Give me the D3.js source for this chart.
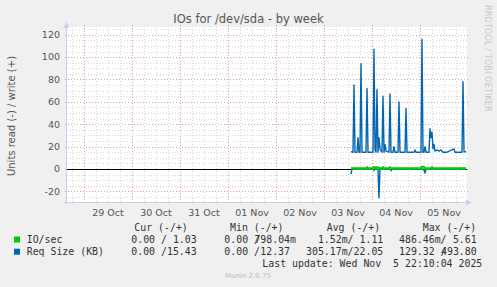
<!DOCTYPE html>
<html><head><meta charset="utf-8">
<script src="https://cdn.jsdelivr.net/npm/d3@7"></script>
<style>
html,body{margin:0;padding:0;background:#f0f0f0;}
svg{display:block;}
text{font-family:"DejaVu Sans",sans-serif;}
.mono{font-family:"DejaVu Sans Mono",monospace;font-size:9.9px;fill:#333;white-space:pre;}
</style></head>
<body>
<script>
// ---------- data ----------
const title = "IOs for /dev/sda - by week";
const yLabel = "Units read (-) / write (+)";
const xTickLabels = ["29 Oct","30 Oct","31 Oct","01 Nov","02 Nov","03 Nov","04 Nov","05 Nov"];
const xTickDates = ["2025-10-29T12:00","2025-10-30T12:00","2025-10-31T12:00","2025-11-01T12:00","2025-11-02T12:00","2025-11-03T12:00","2025-11-04T12:00","2025-11-05T12:00"];
const yTicks = [-20,0,20,40,60,80,100,120];
const timeDomain = ["2025-10-28T15:30","2025-11-05T23:30"];
const yDomain = [-29.5,126.9];

// Req Size (KB) write (+)
const reqWrite = [
 ["2025-11-03T13:30",15.5],["2025-11-03T14:30",15],["2025-11-03T15:00",75],["2025-11-03T15:30",15],
 ["2025-11-03T16:30",15],["2025-11-03T17:00",28],["2025-11-03T17:30",15],["2025-11-03T18:00",15],
 ["2025-11-03T18:30",94],["2025-11-03T19:00",15],["2025-11-03T21:00",15],["2025-11-03T21:30",72],
 ["2025-11-03T22:00",15],["2025-11-04T00:30",15],["2025-11-04T01:00",107],["2025-11-04T01:30",17],
 ["2025-11-04T02:00",15],["2025-11-04T02:30",71],["2025-11-04T03:00",15],["2025-11-04T03:30",28],
 ["2025-11-04T04:00",18],["2025-11-04T05:00",15],["2025-11-04T05:30",65],["2025-11-04T06:00",15],
 ["2025-11-04T06:30",22],["2025-11-04T07:00",16],["2025-11-04T08:30",15],["2025-11-04T09:00",67],
 ["2025-11-04T09:30",15],["2025-11-04T10:30",15],["2025-11-04T11:00",20],["2025-11-04T11:30",15],
 ["2025-11-04T13:00",15],["2025-11-04T13:30",60],["2025-11-04T14:00",15],["2025-11-04T16:30",15],
 ["2025-11-04T17:00",54],["2025-11-04T17:30",15],["2025-11-04T21:00",15],["2025-11-04T21:30",17],
 ["2025-11-04T22:00",15],["2025-11-05T00:30",15],["2025-11-05T01:00",116],["2025-11-05T01:30",15],
 ["2025-11-05T02:00",15],["2025-11-05T02:30",20],["2025-11-05T03:00",15],["2025-11-05T04:30",15],
 ["2025-11-05T05:00",36],["2025-11-05T05:30",28],["2025-11-05T06:00",33],["2025-11-05T06:30",18],
 ["2025-11-05T07:00",22],["2025-11-05T07:30",16],["2025-11-05T08:30",17],["2025-11-05T09:30",16],
 ["2025-11-05T10:30",17],["2025-11-05T11:30",15],["2025-11-05T13:30",15],["2025-11-05T17:00",18],
 ["2025-11-05T17:30",15],["2025-11-05T21:00",15],["2025-11-05T21:30",78],["2025-11-05T22:00",15.4],
 ["2025-11-05T23:00",15.4]
];
// Req Size (KB) read (-)
const reqRead = [
 ["2025-11-03T13:30",-4.5],["2025-11-03T14:00",0],["2025-11-04T00:30",0],["2025-11-04T01:00",-1.5],
 ["2025-11-04T01:30",0],["2025-11-04T03:00",0],["2025-11-04T03:30",-26],["2025-11-04T04:00",0],
 ["2025-11-04T09:00",0],["2025-11-04T09:30",-1.5],["2025-11-04T10:00",0],["2025-11-05T01:00",0],
 ["2025-11-05T01:30",-1],["2025-11-05T02:00",0],["2025-11-05T02:30",-3.6],["2025-11-05T03:00",0],
 ["2025-11-05T23:00",0]
];
// IO/sec write (+)
const ioWrite = [
 ["2025-11-03T13:30",1.0],["2025-11-03T21:00",1.0],["2025-11-03T21:30",2.0],["2025-11-03T22:00",1.0],
 ["2025-11-04T00:30",1.0],["2025-11-04T01:00",2.2],["2025-11-04T01:30",1.0],["2025-11-04T02:00",2.0],
 ["2025-11-04T02:30",1.0],["2025-11-04T03:00",2.0],["2025-11-04T03:30",1.0],["2025-11-04T05:00",1.0],
 ["2025-11-04T05:30",2.0],["2025-11-04T06:00",1.0],["2025-11-04T08:30",1.0],["2025-11-04T09:00",2.0],
 ["2025-11-04T09:30",1.0],["2025-11-05T00:30",1.0],["2025-11-05T01:00",2.5],["2025-11-05T01:30",1.3],
 ["2025-11-05T02:00",2.5],["2025-11-05T02:30",1.0],["2025-11-05T05:30",1.0],["2025-11-05T06:00",2.0],
 ["2025-11-05T06:30",1.0],["2025-11-05T23:00",1.03]
];
// IO/sec read (-)
const ioRead = [["2025-11-03T13:30",0],["2025-11-05T23:00",0]];

const legendHeader = ["Cur (-/+)","Min (-/+)","Avg (-/+)","Max (-/+)"];
const legendNames = ["IO/sec","Req Size (KB)"];
const legendColors = ["#00cc00","#0066b3"];
const legendCur = ["0.00 / 1.03","0.00 /15.43"];
const legendMinNeg = ["0.00 /","0.00 /"];
const legendMinPos = ["798.04m","12.37"];
const legendAvg = ["1.52m/ 1.11","305.17m/22.05"];
const legendMaxNeg = ["486.46m/","129.32 /"];
const legendMaxPos = ["5.61","493.80"];
const lastUpdate = "Last update: Wed Nov  5 22:10:04 2025";
const footer = "Munin 2.0.75";
const watermark = "RRDTOOL / TOBI OETIKER";

// ---------- drawing ----------
const W=497,H=287;
const parse=d3.timeParse("%Y-%m-%dT%H:%M");
const svg=d3.select("body").append("svg").attr("width",W).attr("height",H);
svg.append("rect").attr("width",W).attr("height",H).attr("fill","#f0f0f0");

const x=d3.scaleTime().domain(timeDomain.map(parse)).range([67,467]);
const y=d3.scaleLinear().domain(yDomain).range([202,27]);

svg.append("rect").attr("x",67).attr("y",27).attr("width",400).attr("height",175).attr("fill","#fff");

// minor grid
const minorY=d3.range(-25,126,5).filter(v=>v%20!==0);
svg.append("g").selectAll("line").data(minorY).join("line")
 .attr("x1",67).attr("x2",467).attr("y1",d=>Math.round(y(d))+0.5).attr("y2",d=>Math.round(y(d))+0.5)
 .attr("stroke","#d8d8d8").attr("stroke-width",1).attr("stroke-dasharray","1,2");
const minorX=d3.timeHour.every(6).range(...x.domain()).filter(d=>d.getHours()!==0);
svg.append("g").selectAll("line").data(minorX).join("line")
 .attr("x1",d=>Math.round(x(d))+0.5).attr("x2",d=>Math.round(x(d))+0.5).attr("y1",27).attr("y2",202)
 .attr("stroke","#d8d8d8").attr("stroke-width",1).attr("stroke-dasharray","1,2");
// major grid
svg.append("g").selectAll("line").data(yTicks).join("line")
 .attr("x1",65).attr("x2",469).attr("y1",d=>Math.round(y(d))+0.5).attr("y2",d=>Math.round(y(d))+0.5)
 .attr("stroke","#e6a0a0").attr("stroke-width",1).attr("stroke-dasharray","1,2");
const majorX=d3.timeDay.range(...x.domain());
svg.append("g").selectAll("line").data(majorX).join("line")
 .attr("x1",d=>Math.round(x(d))+0.5).attr("x2",d=>Math.round(x(d))+0.5).attr("y1",25).attr("y2",204)
 .attr("stroke","#e6a0a0").attr("stroke-width",1).attr("stroke-dasharray","1,2");

// axes lines with arrows
const ax="#c8d0f0";
svg.append("line").attr("x1",66.5).attr("x2",66.5).attr("y1",204).attr("y2",24).attr("stroke",ax);
svg.append("path").attr("d","M63.5,28 L66.5,22 L69.5,28 Z").attr("fill",ax);
svg.append("line").attr("x1",64).attr("x2",469).attr("y1",202.5).attr("y2",202.5).attr("stroke",ax);
svg.append("path").attr("d","M466,199.5 L472,202.5 L466,205.5 Z").attr("fill",ax);

// y tick labels
svg.append("g").selectAll("text").data(yTicks).join("text")
 .attr("x",60).attr("y",d=>y(d)).attr("dy","0.35em").attr("text-anchor","end")
 .attr("font-size",9.5).attr("fill","#555").text(d=>d);
// x tick labels
svg.append("g").selectAll("text").data(xTickLabels).join("text")
 .attr("x",(d,i)=>x(parse(xTickDates[i]))).attr("y",212.5).attr("dy","0.35em").attr("text-anchor","middle")
 .attr("font-size",9.5).attr("fill","#555").text(d=>d);

// zero line
const y0=Math.round(y(0))+0.5;
svg.append("line").attr("x1",67).attr("x2",467).attr("y1",y0).attr("y2",y0).attr("stroke","#000").attr("stroke-width",1);

const line=d3.line().x(d=>x(parse(d[0]))).y(d=>y(d[1]));
function draw(data,color,w){svg.append("path").datum(data).attr("d",line).attr("fill","none").attr("stroke",color).attr("stroke-width",w).attr("stroke-linejoin","round");}
draw(reqRead,legendColors[1],1.4);
draw(ioRead,legendColors[0],1.4);
draw(ioWrite,legendColors[0],1.4);
draw(reqWrite,legendColors[1],1.4);

// title
svg.append("text").attr("x",248.5).attr("y",19).attr("dy","0.35em").attr("text-anchor","middle")
 .attr("font-size",11.5).attr("fill","#555").text(title);
// y label
svg.append("text").attr("transform","translate(11,116) rotate(-90)").attr("dy","0.35em").attr("text-anchor","middle")
 .attr("font-size",10).attr("fill","#555").text(yLabel);
// watermark
svg.append("text").attr("transform","translate(488,5) rotate(90)").attr("dy","0.35em").attr("text-anchor","start")
 .attr("font-size",8.3).attr("fill","#c8c8c8").text(watermark);

// legend
const hx=[134.3,230,326.7,422.7];
svg.append("g").selectAll("text").data(legendHeader).join("text").attr("class","mono")
 .attr("x",(d,i)=>hx[i]).attr("y",227.7).attr("dy","0.35em").text(d=>d);
const rowY=[239.5,251.7];
legendNames.forEach((n,i)=>{
 const ry=rowY[i];
 svg.append("rect").attr("x",14).attr("y",ry-3).attr("width",6).attr("height",6).attr("fill",legendColors[i]);
 const t=(xx,s,anchor)=>svg.append("text").attr("class","mono").attr("x",xx).attr("y",ry).attr("dy","0.35em").attr("text-anchor",anchor||"start").text(s);
 t(26.7,n);
 t(196.7,legendCur[i],"end");
 t(224.3,legendMinNeg[i]);
 t(i===0?296:290,legendMinPos[i],"end");
 t(383.3,legendAvg[i],"end");
 t(399,legendMaxNeg[i]);
 t(476.7,legendMaxPos[i],"end");
});
svg.append("text").attr("class","mono").attr("x",482.3).attr("y",264).attr("dy","0.35em").attr("text-anchor","end").text(lastUpdate);
svg.append("text").attr("x",248).attr("y",276).attr("dy","0.35em").attr("text-anchor","middle")
 .attr("font-size",7).attr("fill","#bbb").text(footer);
</script>
</body></html>
